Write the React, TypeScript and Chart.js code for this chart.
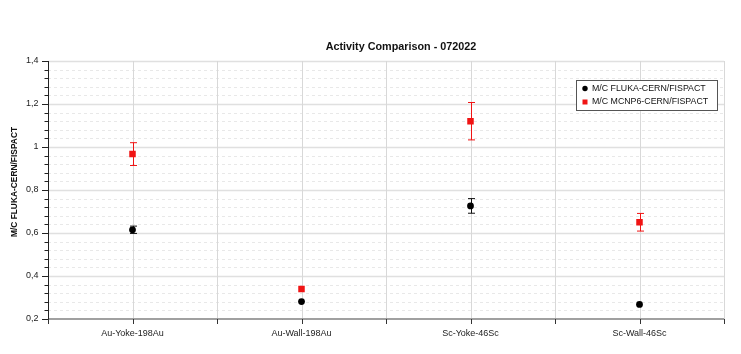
import React, { useEffect, useRef } from "react";
import { Chart, registerables } from "chart.js";

Chart.register(...registerables);

const categories = ["Au-Yoke-198Au", "Au-Wall-198Au", "Sc-Yoke-46Sc", "Sc-Wall-46Sc"];
const flukaValues = [0.615, 0.281, 0.726, 0.268];
const flukaErrors = [0.017, 0, 0.034, 0];
const mcnpValues = [0.967, 0.34, 1.12, 0.65];
const mcnpErrors = [0.053, 0, 0.087, 0.041];
const seriesNames = ["M/C FLUKA-CERN/FISPACT", "M/C MCNP6-CERN/FISPACT"];
const yMin = 0.2;
const yMax = 1.4;
const yMajorStep = 0.2;
const yMinorStep = 0.04;
const titleText = "Activity Comparison - 072022";
const yTitle = "M/C FLUKA-CERN/FISPACT";

const RED = "#f01414";
const BLACK = "#000000";
const FONT = "'Liberation Sans', Arial, Helvetica, sans-serif";

const errors = [flukaErrors, mcnpErrors];
const colors = ["#111111", RED];

const decorPlugin = {
  id: "decor",
  beforeDatasetsDraw(chart: any) {
    const { ctx, chartArea } = chart;
    const x = chart.scales.x;
    const y = chart.scales.y;
    const { left, right, top, bottom } = chartArea;
    ctx.save();
    const nMinor = Math.round((yMax - yMin) / yMinorStep);
    const perMajor = Math.round(yMajorStep / yMinorStep);
    ctx.lineWidth = 1;
    for (let k = 0; k <= nMinor; k++) {
      const v = yMin + k * yMinorStep;
      const py = Math.round(y.getPixelForValue(v)) + 0.5;
      if (k % perMajor === 0) continue;
      ctx.strokeStyle = "#e8e8e8";
      ctx.setLineDash([3, 3]);
      ctx.beginPath();
      ctx.moveTo(left, py);
      ctx.lineTo(right, py);
      ctx.stroke();
    }
    ctx.setLineDash([]);
    for (let k = perMajor; k <= nMinor; k += perMajor) {
      const v = yMin + k * yMinorStep;
      const py = Math.round(y.getPixelForValue(v)) + 0.5;
      ctx.strokeStyle = "#e0e0e0";
      ctx.lineWidth = 1.5;
      ctx.beginPath();
      ctx.moveTo(left, py);
      ctx.lineTo(right, py);
      ctx.stroke();
    }
    ctx.lineWidth = 1;
    ctx.strokeStyle = "#d8d8d8";
    for (let i = 1; i <= categories.length * 2; i++) {
      const v = -0.5 + i * 0.5;
      const px = Math.round(x.getPixelForValue(v)) + 0.5;
      ctx.beginPath();
      ctx.moveTo(px, top);
      ctx.lineTo(px, bottom);
      ctx.stroke();
    }
    ctx.strokeStyle = "#a0a0a0";
    ctx.lineWidth = 2;
    ctx.beginPath();
    ctx.moveTo(left, bottom);
    ctx.lineTo(right, bottom);
    ctx.stroke();
    ctx.strokeStyle = "#333";
    ctx.lineWidth = 1;
    for (let i = 0; i <= categories.length * 2; i++) {
      const v = -0.5 + i * 0.5;
      const px = Math.round(x.getPixelForValue(v)) + 0.5;
      ctx.beginPath();
      ctx.moveTo(px, bottom);
      ctx.lineTo(px, bottom + 5);
      ctx.stroke();
    }
    ctx.strokeStyle = "#222";
    ctx.beginPath();
    ctx.moveTo(left + 0.5, top);
    ctx.lineTo(left + 0.5, bottom);
    ctx.stroke();
    for (let k = 0; k <= nMinor; k++) {
      const v = yMin + k * yMinorStep;
      const py = Math.round(y.getPixelForValue(v)) + 0.5;
      const len = k % perMajor === 0 ? 6 : 3.5;
      ctx.beginPath();
      ctx.moveTo(left - len, py);
      ctx.lineTo(left, py);
      ctx.stroke();
    }
    chart.data.datasets.forEach((ds: any, di: number) => {
      const errs = errors[di];
      ctx.strokeStyle = colors[di];
      ctx.lineWidth = 1;
      ds.data.forEach((val: number, i: number) => {
        const e = errs[i];
        if (!e) return;
        const px = Math.round(x.getPixelForValue(i)) + 0.5;
        const y1 = y.getPixelForValue(val + e);
        const y2 = y.getPixelForValue(val - e);
        ctx.beginPath();
        ctx.moveTo(px, y1);
        ctx.lineTo(px, y2);
        ctx.moveTo(px - 3.5, y1);
        ctx.lineTo(px + 3.5, y1);
        ctx.moveTo(px - 3.5, y2);
        ctx.lineTo(px + 3.5, y2);
        ctx.stroke();
      });
    });
    ctx.restore();
  },
  afterDraw(chart: any) {
    const { ctx } = chart;
    ctx.save();
    ctx.fillStyle = "#111";
    ctx.font = `bold 10.8px ${FONT}`;
    ctx.textAlign = "center";
    ctx.textBaseline = "middle";
    ctx.fillText(titleText, 401, 47);
    ctx.save();
    ctx.translate(15, 182);
    ctx.rotate(-Math.PI / 2);
    ctx.font = `bold 8.4px ${FONT}`;
    ctx.fillText(yTitle, 0, 0);
    ctx.restore();
    const bx = 576.5, by = 80.5, bw = 141, bh = 30;
    ctx.fillStyle = "#fff";
    ctx.fillRect(bx, by, bw, bh);
    ctx.strokeStyle = "#555";
    ctx.lineWidth = 1;
    ctx.strokeRect(bx, by, bw, bh);
    ctx.font = `8.8px ${FONT}`;
    ctx.textAlign = "left";
    ctx.textBaseline = "middle";
    ctx.fillStyle = BLACK;
    ctx.beginPath();
    ctx.arc(585, 88.5, 2.7, 0, Math.PI * 2);
    ctx.fill();
    ctx.fillStyle = "#111";
    ctx.fillText(seriesNames[0], 592, 88.5);
    ctx.fillStyle = RED;
    ctx.fillRect(582.5, 99.5, 5, 5);
    ctx.fillStyle = "#111";
    ctx.fillText(seriesNames[1], 592, 102);
    ctx.restore();
  },
};

export default function App() {
  const ref = useRef<HTMLCanvasElement | null>(null);
  useEffect(() => {
    if (!ref.current) return;
    const chart = new Chart(ref.current, {
      type: "line",
      data: {
        labels: categories,
        datasets: [
          {
            label: seriesNames[0],
            data: flukaValues,
            showLine: false,
            pointStyle: "circle",
            pointRadius: 3.4,
            pointBackgroundColor: BLACK,
            pointBorderColor: BLACK,
            pointBorderWidth: 0,
          },
          {
            label: seriesNames[1],
            data: mcnpValues,
            showLine: false,
            pointStyle: "rect",
            pointRadius: 4.6,
            pointBackgroundColor: RED,
            pointBorderColor: RED,
            pointBorderWidth: 0,
          },
        ],
      },
      options: {
        responsive: false,
        animation: false,
        layout: { padding: { left: 0, top: 61, right: 17, bottom: 0 } },
        plugins: {
          legend: { display: false },
          title: { display: false },
          tooltip: { enabled: false },
        },
        scales: {
          x: {
            type: "category",
            offset: true,
            grid: { display: false, drawTicks: false },
            border: { display: false },
            ticks: {
              padding: 9,
              color: "#222",
              font: { size: 9, family: FONT },
              maxRotation: 0,
              autoSkip: false,
            },
            afterFit(scale: any) {
              scale.height = 35;
            },
          },
          y: {
            min: yMin,
            max: yMax,
            grid: { display: false, drawTicks: false },
            border: { display: false },
            ticks: {
              stepSize: yMajorStep,
              padding: 9.5,
              color: "#222",
              font: { size: 9, family: FONT },
              callback: (v: any) => String(Math.round(Number(v) * 10) / 10).replace(".", ","),
            },
            afterFit(scale: any) {
              scale.width = 48;
            },
          },
        },
      } as any,
      plugins: [decorPlugin],
    });
    return () => chart.destroy();
  }, []);
  return (
    <div style={{ position: "fixed", left: 0, top: 0, width: 741, height: 354, background: "#fff" }}>
      <canvas ref={ref} width={741} height={354} style={{ display: "block" }} />
    </div>
  );
}
